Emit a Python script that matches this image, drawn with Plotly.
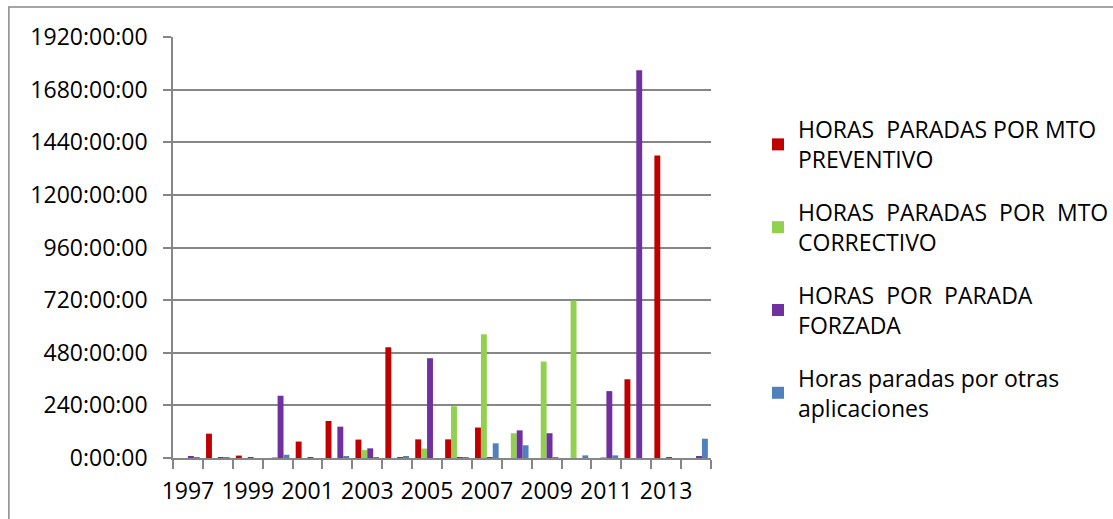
import plotly.graph_objects as go

# Hours stopped per year, by cause
years = [1997, 1998, 1999, 2000, 2001, 2002, 2003, 2004, 2005,
         2006, 2007, 2008, 2009, 2010, 2011, 2012, 2013, 2014]

preventivo = [0, 111, 11, 0, 75, 169, 84, 505, 85,
              85, 139, 0, 0, 0, 0, 359, 1380, 0]
correctivo = [0, 0, 0, 3, 0, 0, 36, 0, 43,
              236, 564, 113, 440, 718, 3, 0, 0, 0]
forzada = [8, 4, 3, 284, 3, 143, 44, 3, 455,
           3, 3, 126, 113, 0, 305, 1768, 3, 8]
otras = [3, 3, 0, 15, 0, 5, 3, 5, 0,
         4, 67, 58, 3, 12, 12, 0, 0, 88]

series_names = [
    "HORAS  PARADAS POR MTO<br>PREVENTIVO",
    "HORAS  PARADAS  POR  MTO<br>CORRECTIVO",
    "HORAS  POR  PARADA<br>FORZADA",
    "Horas paradas por otras<br>aplicaciones",
]
series_values = [preventivo, correctivo, forzada, otras]
series_colors = ["#C00000", "#92D050", "#7030A0", "#4F81BD"]

label_years = [1997, 1999, 2001, 2003, 2005, 2007, 2009, 2011, 2013]
y_ticks = [0, 240, 480, 720, 960, 1200, 1440, 1680, 1920]
y_tick_text = [f"{h}:00:00" for h in y_ticks]

FONT = "Open Sans"
FONT_SIZE = 23
AXIS_GRAY = "#868686"

fig = go.Figure()
for i, (name, vals, color) in enumerate(zip(series_names, series_values, series_colors)):
    fig.add_trace(go.Bar(
        x=years, y=vals, name=name,
        marker=dict(color=color, line=dict(width=0)),
        legendgroup=f"g{i}",
    ))

fig.update_layout(
    width=1113, height=519,
    margin=dict(l=173, r=402, t=37, b=61, autoexpand=False),
    paper_bgcolor="white", plot_bgcolor="white",
    barmode="group", bargap=0.21, bargroupgap=0,
    font=dict(family=FONT, color="#000000", size=FONT_SIZE),
    legend=dict(
        x=1.0874, xanchor="left", y=0.8314, yanchor="top",
        font=dict(family=FONT, size=FONT_SIZE, color="#000000"),
        tracegroupgap=20,
        bgcolor="rgba(0,0,0,0)",
    ),
    xaxis=dict(
        range=[1996.5, 2014.5],
        tickmode="array", tickvals=label_years,
        ticktext=[str(y) for y in label_years],
        ticks="", showgrid=False, zeroline=False,
        showline=True, linecolor=AXIS_GRAY, linewidth=1.5,
        tickfont=dict(family=FONT, size=FONT_SIZE, color="#000000"),
        ticklabelstandoff=12,
        minor=dict(tick0=1996.5, dtick=1, ticks="outside", ticklen=9,
                   tickcolor=AXIS_GRAY, tickwidth=1.5, showgrid=False),
        fixedrange=True,
    ),
    yaxis=dict(
        range=[0, 1920],
        tickmode="array", tickvals=y_ticks, ticktext=y_tick_text,
        ticks="outside", ticklen=8, tickcolor=AXIS_GRAY, tickwidth=1.5,
        showgrid=True, gridcolor=AXIS_GRAY, gridwidth=1.5,
        zeroline=False,
        showline=True, linecolor=AXIS_GRAY, linewidth=1.5,
        tickfont=dict(family=FONT, size=FONT_SIZE, color="#000000"),
        ticklabelstandoff=11,
        fixedrange=True,
    ),
    shapes=[dict(
        type="rect", xref="paper", yref="paper",
        x0=-0.305, x1=1.76, y0=-0.2, y1=1.0713,
        line=dict(color=AXIS_GRAY, width=1.5), fillcolor="rgba(0,0,0,0)",
        layer="below",
    )],
)

fig.write_html("out.html")
